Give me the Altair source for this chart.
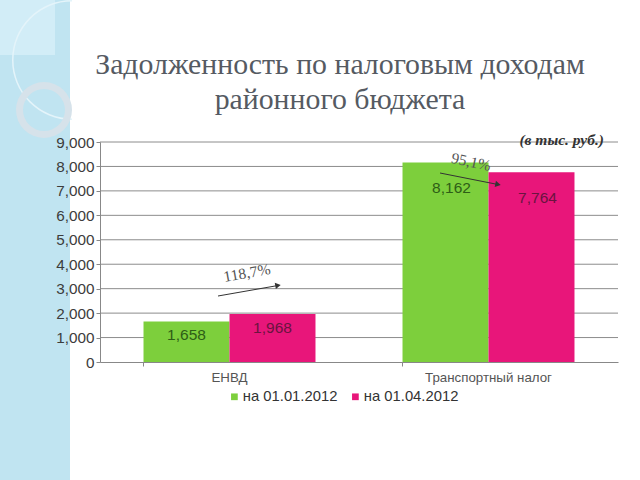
import altair as alt
import pandas as pd

categories = ["ЕНВД", "Транспортный налог"]
series = ["на 01.01.2012", "на 01.04.2012"]
values_2012_01 = [1658, 8162]
values_2012_04 = [1968, 7764]
y_ticks = [0, 1000, 2000, 3000, 4000, 5000, 6000, 7000, 8000, 9000]

rows = []
for i, c in enumerate(categories):
    rows.append({"cat": c, "series": series[0], "value": values_2012_01[i]})
    rows.append({"cat": c, "series": series[1], "value": values_2012_04[i]})
df = pd.DataFrame(rows)
grid_df = pd.DataFrame({"value": y_ticks[1:]})

GREEN = "#7dcf3c"
PINK = "#e8167a"
SERIF = "Liberation Serif"
SANS = "Liberation Sans"

dummy = alt.Data(values=[{"a": 1}])

x_axis = alt.Axis(labelAngle=0, labelFont=SANS, labelFontSize=13.3,
                  labelColor="#555555", labelPadding=4, tickSize=4,
                  tickColor="#888888", domainColor="#888888",
                  bandPosition=0, grid=False, zindex=1)
y_axis = alt.Axis(values=y_ticks, format=",.0f", labelOverlap=False, labelFont=SANS,
                  labelFontSize=15.3, labelColor="#3c3c3c", labelPadding=2, tickSize=4,
                  tickColor="#888888", domainColor="#888888", grid=False, zindex=1)
x_scale = alt.Scale(paddingInner=0.336, paddingOuter=0.168)
xoff = alt.XOffset("series:N", sort=series, scale=alt.Scale(paddingInner=0, paddingOuter=0))
y_scale = alt.Scale(domain=[0, 9000], nice=False)


def xy():
    return dict(
        x=alt.X("cat:N", sort=categories, title=None, scale=x_scale, axis=x_axis),
        xOffset=xoff,
        y=alt.Y("value:Q", scale=y_scale, title=None, axis=y_axis),
    )


grid = alt.Chart(grid_df).mark_rule(color="#8c8c8c", strokeWidth=1).encode(
    y=alt.Y("value:Q", scale=y_scale, title=None, axis=y_axis),
    x=alt.value(0), x2=alt.value(518))

bars = alt.Chart(df).mark_bar(stroke=None).encode(
    **xy(),
    color=alt.Color("series:N", sort=series,
                    scale=alt.Scale(domain=series, range=[GREEN, PINK]),
                    legend=alt.Legend(title=None, orient="none", direction="horizontal",
                                      legendX=127, legendY=247, symbolType="square",
                                      symbolSize=45, symbolStrokeWidth=0,
                                      labelFont=SANS, labelFontSize=14.8,
                                      labelColor="#333333", labelOffset=1,
                                      columnPadding=10)),
)

label_color = alt.condition(alt.datum.series == series[0], alt.value("#2e5e16"), alt.value("#6a1440"))
labels_big = alt.Chart(df).transform_filter("datum.value > 5000").mark_text(
    font=SANS, fontSize=15.5, baseline="middle", dy=26, dx=6).encode(
    **xy(), text=alt.Text("value:Q", format=","), color=label_color)
labels_small = alt.Chart(df).transform_filter("datum.value <= 5000").mark_text(
    font=SANS, fontSize=15.5, baseline="middle", dy=14).encode(
    **xy(), text=alt.Text("value:Q", format=","), color=label_color)

# decorative left strip
strip = alt.Chart(dummy).mark_rect(color="#c0e4f1").encode(
    x=alt.value(-100), x2=alt.value(-30), y=alt.value(-142), y2=alt.value(338))
square = alt.Chart(dummy).mark_rect(color="#d2edf7").encode(
    x=alt.value(-100), x2=alt.value(-45), y=alt.value(-142), y2=alt.value(-87))
big_arc = alt.Chart(dummy).mark_arc(theta=3.1416, theta2=6.2832, radius=60, radius2=58.5,
                                    color="#e4f4fa").encode(
    x=alt.value(-28), y=alt.value(-82))
ring = alt.Chart(dummy).mark_arc(theta=0, theta2=6.2832, radius=28, radius2=21,
                                 color="#d6e2ea").encode(
    x=alt.value(-56), y=alt.value(-32))

title1 = alt.Chart(dummy).mark_text(font=SERIF, fontSize=29.8, color="#555a62",
                                    baseline="middle", align="center").encode(
    x=alt.value(240), y=alt.value(-77), text=alt.value("Задолженность по налоговым доходам"))
title2 = alt.Chart(dummy).mark_text(font=SERIF, fontSize=29.8, color="#555a62",
                                    baseline="middle", align="center").encode(
    x=alt.value(240), y=alt.value(-42), text=alt.value("районного бюджета"))
unit = alt.Chart(dummy).mark_text(font=SERIF, fontSize=15.5, fontStyle="italic", fontWeight="bold",
                                  color="#333333", baseline="middle", align="right").encode(
    x=alt.value(504), y=alt.value(-2), text=alt.value("(в тыс. руб.)"))

pct1 = alt.Chart(dummy).mark_text(font=SERIF, fontSize=15.5, color="#555555", angle=350,
                                  baseline="middle", align="center").encode(
    x=alt.value(147), y=alt.value(131), text=alt.value("118,7%"))
pct2 = alt.Chart(dummy).mark_text(font=SERIF, fontSize=15.5, color="#555555", angle=12,
                                  baseline="middle", align="center").encode(
    x=alt.value(371), y=alt.value(20), text=alt.value("95,1%"))

arrow1 = alt.Chart(dummy).mark_rule(color="#333333", strokeWidth=1).encode(
    x=alt.value(118), y=alt.value(154), x2=alt.value(178), y2=alt.value(143.5))
head1 = alt.Chart(dummy).mark_point(shape="triangle-right", filled=True, size=40,
                                    color="#333333", angle=350, opacity=1).encode(
    x=alt.value(178), y=alt.value(143.5))
arrow2 = alt.Chart(dummy).mark_rule(color="#333333", strokeWidth=1).encode(
    x=alt.value(340), y=alt.value(31), x2=alt.value(398), y2=alt.value(42.5))
head2 = alt.Chart(dummy).mark_point(shape="triangle-right", filled=True, size=40,
                                    color="#333333", angle=11, opacity=1).encode(
    x=alt.value(398), y=alt.value(42.5))

chart = alt.layer(
    strip, square, big_arc, ring, grid,
    bars, labels_big, labels_small,
    title1, title2, unit, pct1, pct2, arrow1, head1, arrow2, head2,
).properties(
    width=518, height=220,
    background="white",
    autosize=alt.AutoSizeParams(type="none"),
    padding={"left": 100, "top": 142, "right": 22, "bottom": 118},
).configure_view(stroke=None)

chart.save("out.html", embed_options={"renderer": "svg", "actions": False})
